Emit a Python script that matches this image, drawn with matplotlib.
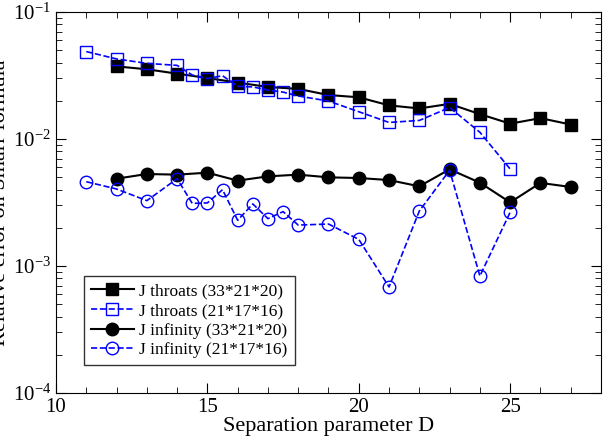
import matplotlib
matplotlib.use("Agg")
import matplotlib.pyplot as plt
from matplotlib.ticker import LogLocator, MultipleLocator, NullFormatter

plt.rcParams["font.family"] = ["Liberation Serif", "DejaVu Serif"]
plt.rcParams["mathtext.fontset"] = "stix"

d_black = list(range(12, 28))
thr_fine = [.0373, .0354, .0327, .0302, .0278, .0257, .0248, .0222, .0213, .0184,
            .0174, .0189, .0157, .0132, .0146, .0130]
inf_fine = [.00487, .0053, .00524, .00543, .0047, .00508, .00524, .00499, .00493,
            .00475, .00424, .00577, .00453, .00317, .00451, .00419]

d_blue = [11, 12, 13, 14, 14.5, 15, 15.5, 16, 16.5, 17, 17.5, 18, 19, 20, 21, 22, 23, 24, 25]
thr_coarse = [.0488, .0427, .0394, .0380, .0319, .0299, .0315, .0260, .0257, .0243,
              .0234, .0218, .0199, .0164, .0135, .0140, .0177, .0113, .0058]
inf_coarse = [.00461, .00404, .00327, .00487, .00311, .00314, .00399, .00229, .00308,
              .00236, .00268, .00210, .00214, .00162, .000684, .00271, .00567,
              .000834, .00265]

fig = plt.figure(figsize=(6.03, 4.36), dpi=100)
ax = fig.add_axes([56/603, 43/436, 545/603, 381/436])

ax.plot(d_black, thr_fine, "-s", color="black", ms=8, lw=1.5, label="J throats (33*21*20)")
ax.plot(d_blue, thr_coarse, "--s", color="blue", mfc="none", ms=8, lw=1.2, label="J throats (21*17*16)")
ax.plot(d_black, inf_fine, "-o", color="black", ms=9, lw=1.5, label="J infinity (33*21*20)")
ax.plot(d_blue, inf_coarse, "--o", color="blue", mfc="none", ms=9, lw=1.2, label="J infinity (21*17*16)")

ax.set_yscale("log")
ax.set_xlim(10, 28)
ax.set_ylim(1e-4, 1e-1)
ax.xaxis.set_major_locator(MultipleLocator(5))
ax.xaxis.set_minor_locator(MultipleLocator(1))
ax.yaxis.set_minor_locator(LogLocator(subs=range(2, 10)))
ax.yaxis.set_minor_formatter(NullFormatter())
ax.tick_params(which="both", direction="in", top=True, right=True, labelsize=15)
ax.tick_params(which="major", length=7)
ax.tick_params(which="minor", length=4)

ax.set_xlabel("Separation parameter D", fontsize=16, labelpad=0)
ax.set_ylabel("Relative error on Smarr formula", fontsize=16, labelpad=2)

leg = ax.legend(loc="lower left", bbox_to_anchor=(0.035, 0.05), fontsize=12.5,
                fancybox=False, edgecolor="black", handlelength=2.5,
                borderpad=0.4, labelspacing=0.2, handletextpad=0.3)
leg.get_frame().set_linewidth(1.0)

fig.savefig("out.png", dpi=100)
